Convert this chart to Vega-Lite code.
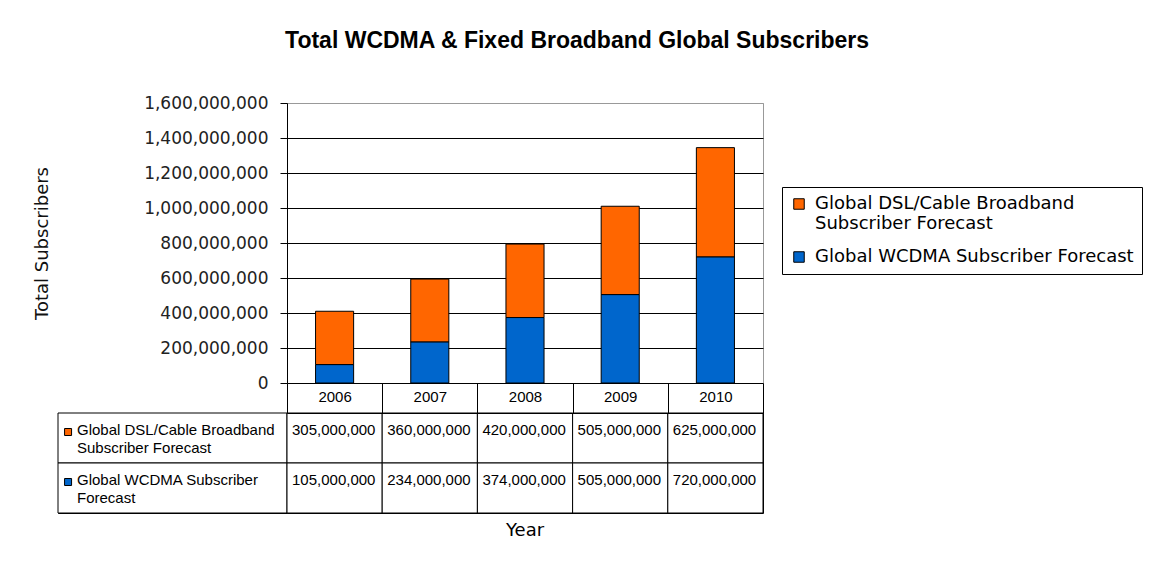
{
  "$schema": "https://vega.github.io/schema/vega-lite/v6.json",
  "padding": {"left": 33, "top": 29, "right": 3, "bottom": 5},
  "background": "white",
  "title": {"text": "Total WCDMA & Fixed Broadband Global Subscribers", "font": "Liberation Sans", "fontSize": 23, "fontWeight": "bold", "color": "#000", "anchor": "middle", "offset": 41, "dx": -11},
  "datasets": {
    "subs": [
      {"year": "2006", "series": "Global DSL/Cable Broadband Subscriber Forecast", "value": 305000000},
      {"year": "2007", "series": "Global DSL/Cable Broadband Subscriber Forecast", "value": 360000000},
      {"year": "2008", "series": "Global DSL/Cable Broadband Subscriber Forecast", "value": 420000000},
      {"year": "2009", "series": "Global DSL/Cable Broadband Subscriber Forecast", "value": 505000000},
      {"year": "2010", "series": "Global DSL/Cable Broadband Subscriber Forecast", "value": 625000000},
      {"year": "2006", "series": "Global WCDMA Subscriber Forecast", "value": 105000000},
      {"year": "2007", "series": "Global WCDMA Subscriber Forecast", "value": 234000000},
      {"year": "2008", "series": "Global WCDMA Subscriber Forecast", "value": 374000000},
      {"year": "2009", "series": "Global WCDMA Subscriber Forecast", "value": 505000000},
      {"year": "2010", "series": "Global WCDMA Subscriber Forecast", "value": 720000000}
    ],
    "names": [
      {"series": "Global DSL/Cable Broadband Subscriber Forecast", "label": "Global DSL/Cable Broadband\nSubscriber Forecast"},
      {"series": "Global WCDMA Subscriber Forecast", "label": "Global WCDMA Subscriber\nForecast"}
    ]
  },
  "columns": 2,
  "spacing": {"row": 30, "column": 0},
  "bounds": "flush",
  "resolve": {"legend": {"color": "independent"}},
  "concat": [
    {
      "width": 229, "height": 280,
      "data": {"values": []},
      "view": {"stroke": null},
      "mark": "text",
      "encoding": {}
    },
    {
      "width": 476, "height": 280,
      "data": {"name": "subs"},
      "view": {"stroke": "#999", "strokeWidth": 1},
      "mark": {"type": "bar", "stroke": "#000", "strokeWidth": 1},
      "encoding": {
        "x": {"field": "year", "type": "ordinal", "scale": {"paddingInner": 0.6, "paddingOuter": 0.3}, "axis": null},
        "y": {"field": "value", "type": "quantitative", "stack": "zero", "scale": {"domain": [0, 1600000000], "nice": false},
          "axis": {"title": "Total Subscribers", "values": [0, 200000000, 400000000, 600000000, 800000000, 1000000000, 1200000000, 1400000000, 1600000000], "format": ",d",
            "labelFont": "DejaVu Sans", "labelFontSize": 17, "labelColor": "#222", "labelPadding": 12, "labelFlush": false,
            "tickSize": 7, "tickColor": "#000", "domainColor": "#000", "grid": true,
            "gridColor": {"condition": {"test": "datum.value >= 1600000000", "value": "#999"}, "value": "#000"}, "gridOpacity": 1,
            "titleFont": "DejaVu Sans", "titleFontSize": 18, "titleFontWeight": "normal", "titleColor": "#111", "titlePadding": 92}},
        "color": {"field": "series", "type": "nominal",
          "scale": {"domain": ["Global DSL/Cable Broadband Subscriber Forecast", "Global WCDMA Subscriber Forecast"], "range": ["#FF6600", "#0066CC"]},
          "legend": {"title": null, "orient": "none", "legendX": 495, "legendY": 84, "direction": "vertical",
            "strokeColor": "#000", "fillColor": "#fff", "padding": 8,
            "symbolType": "square", "symbolSize": 110, "symbolStrokeColor": "#000", "symbolStrokeWidth": 1, "symbolOpacity": 1,
            "labelFont": "DejaVu Sans", "labelFontSize": 18, "labelColor": "#000", "labelLimit": 500, "labelOffset": 7, "rowPadding": 15,
            "labelExpr": "datum.label == 'Global DSL/Cable Broadband Subscriber Forecast' ? ['Global DSL/Cable Broadband', 'Subscriber Forecast'] : datum.label"}},
        "order": {"field": "series", "sort": "descending"}
      }
    },
    {
      "width": 229, "height": 100,
      "data": {"name": "names"},
      "view": {"stroke": "#000"},
      "layer": [
        {"mark": {"type": "rect", "fill": "#fff", "stroke": "#000", "strokeWidth": 1},
         "encoding": {"y": {"field": "series", "type": "nominal", "scale": {"domain": ["Global DSL/Cable Broadband Subscriber Forecast", "Global WCDMA Subscriber Forecast"], "paddingInner": 0, "paddingOuter": 0}, "axis": null}}},
        {"mark": {"type": "square", "size": 49, "filled": true, "opacity": 1, "stroke": "#000", "strokeWidth": 1},
         "encoding": {
           "x": {"datum": 0.044, "type": "quantitative", "scale": {"domain": [0, 1]}, "axis": null},
           "y": {"field": "series", "type": "nominal", "bandPosition": 0.38, "axis": null},
           "color": {"field": "series", "type": "nominal", "legend": null}}},
        {"mark": {"type": "text", "align": "left", "baseline": "top", "lineBreak": "\n", "lineHeight": 18, "font": "Liberation Sans", "fontSize": 15, "color": "#000"},
         "encoding": {
           "x": {"datum": 0.083, "type": "quantitative", "axis": null},
           "y": {"field": "series", "type": "nominal", "bandPosition": 0.19, "axis": null},
           "text": {"field": "label"}}}
      ]
    },
    {
      "width": 476, "height": 100,
      "data": {"name": "subs"},
      "view": {"stroke": "#000"},
      "title": {"text": "Year", "orient": "bottom", "font": "DejaVu Sans", "fontSize": 18, "fontWeight": "normal", "color": "#000", "offset": 8, "anchor": "middle"},
      "encoding": {
        "x": {"field": "year", "type": "ordinal", "scale": {"paddingInner": 0, "paddingOuter": 0},
          "axis": {"orient": "top", "title": null, "tickBand": "extent", "tickSize": 30, "tickColor": "#000", "domainColor": "#000",
            "labelPadding": -13, "labelBaseline": "middle", "labelFont": "Liberation Sans", "labelFontSize": 15, "labelColor": "#000", "labelAngle": 0}},
        "y": {"field": "series", "type": "nominal", "scale": {"domain": ["Global DSL/Cable Broadband Subscriber Forecast", "Global WCDMA Subscriber Forecast"], "paddingInner": 0, "paddingOuter": 0}, "axis": null}
      },
      "layer": [
        {"mark": {"type": "rect", "fill": "#fff", "stroke": "#000", "strokeWidth": 1}},
        {"mark": {"type": "text", "align": "left", "dx": 5, "baseline": "middle", "font": "Liberation Sans", "fontSize": 15, "color": "#000"},
         "encoding": {
           "x": {"field": "year", "type": "ordinal", "bandPosition": 0},
           "y": {"field": "series", "type": "nominal", "bandPosition": 0.34},
           "text": {"field": "value", "type": "quantitative", "format": ",d"}}}
      ]
    }
  ]
}
